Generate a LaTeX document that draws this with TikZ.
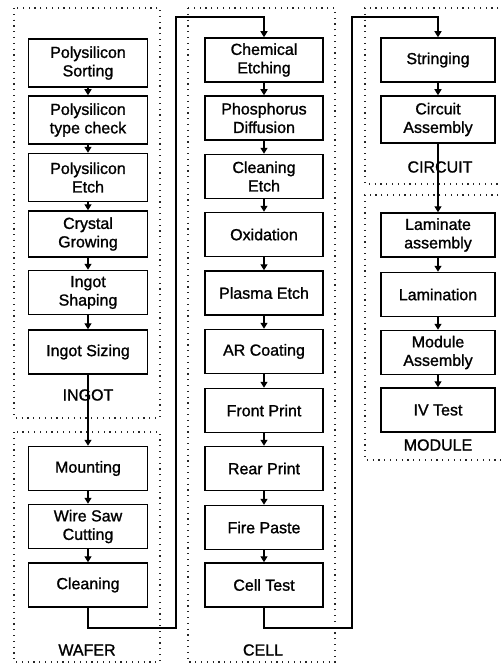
\documentclass[tikz,border=0pt]{standalone}
\usepackage{fontspec}
\setmainfont[FakeBold=1.2,AutoFakeBold=1.2]{Liberation Sans}
\usetikzlibrary{arrows.meta}
\tikzset{
  stepbox/.style={draw=black, line width=1.5pt, rectangle, align=center, inner sep=1pt,
    font=\fontsize{16pt}{18.5pt}\selectfont\bfseries, minimum height=44pt},
  c1/.style={stepbox, minimum width=119pt},
  c2/.style={stepbox, minimum width=118pt},
  c3/.style={stepbox, minimum width=114pt},
  arr/.style={draw=black, line width=1.3pt, -{Triangle[length=6pt,width=7pt]}},
  dotbox/.style={draw=black!85, line width=1.3pt, dash pattern=on 1.2pt off 4.6pt},
  grp/.style={font=\fontsize{16pt}{18.5pt}\selectfont\bfseries, inner sep=0pt}
}
\begin{document}
\begin{tikzpicture}[x=1pt,y={(0pt,-1pt)}]
\useasboundingbox (0,0) rectangle (502,666);
% group frames
\draw[dotbox] (14,8) rectangle (160,418);
\draw[dotbox] (14,432) rectangle (160,662);
\draw[dotbox] (188,8) rectangle (335,662);
\draw[dotbox] (510,8) -- (365,8) -- (365,184) -- (510,184);
\draw[dotbox] (510,195) -- (365,195) -- (365,460) -- (510,460);
% column 1
\node[c1, minimum height=48pt] (ps) at (88,63) {Polysilicon\\Sorting};
\node[c1, minimum height=48pt] (pt) at (88,120) {Polysilicon\\type check};
\node[c1, minimum height=48pt] (pe) at (88,177.5) {Polysilicon\\Etch};
\node[c1, minimum height=46pt] (cg) at (88,234) {Crystal\\Growing};
\node[c1] (is) at (88,292.5) {Ingot\\Shaping};
\node[c1] (iz) at (88,352) {Ingot Sizing};
\node[c1] (mo) at (88,468.5) {Mounting};
\node[c1] (ws) at (88,526.5) {Wire Saw\\Cutting};
\node[c1] (cl) at (88,585) {Cleaning};
% column 2
\node[c2] (ce) at (264,60) {Chemical\\Etching};
\node[c2] (pd) at (264,118) {Phosphorus\\Diffusion};
\node[c2] (cle) at (264,176.5) {Cleaning\\Etch};
\node[c2] (ox) at (264,234.5) {Oxidation};
\node[c2] (pl) at (264,293) {Plasma Etch};
\node[c2] (ar) at (264,351.5) {AR Coating};
\node[c2] (fp) at (264,410.5) {Front Print};
\node[c2] (rp) at (264,468.5) {Rear Print};
\node[c2] (fi) at (264,527.5) {Fire Paste};
\node[c2] (ct) at (264,585) {Cell Test};
% column 3
\node[c3] (st) at (438,60) {Stringing};
\node[c3, minimum height=47pt] (ca) at (438,119.5) {Circuit\\Assembly};
\node[c3] (la) at (438,235) {Laminate\\assembly};
\node[c3] (lm) at (438,294.5) {Lamination};
\node[c3] (ma) at (438,352.5) {Module\\Assembly};
\node[c3] (iv) at (438,410) {IV Test};
% connectors
\draw[arr] (ps) -- (pt);
\draw[arr] (pt) -- (pe);
\draw[arr] (pe) -- (cg);
\draw[arr] (cg) -- (is);
\draw[arr] (is) -- (iz);
\draw[arr] (iz) -- (mo);
\draw[arr] (mo) -- (ws);
\draw[arr] (ws) -- (cl);
\draw[arr] (ce) -- (pd);
\draw[arr] (pd) -- (cle);
\draw[arr] (cle) -- (ox);
\draw[arr] (ox) -- (pl);
\draw[arr] (pl) -- (ar);
\draw[arr] (ar) -- (fp);
\draw[arr] (fp) -- (rp);
\draw[arr] (rp) -- (fi);
\draw[arr] (fi) -- (ct);
\draw[arr] (st) -- (ca);
\draw[arr] (ca) -- (la);
\draw[arr] (la) -- (lm);
\draw[arr] (lm) -- (ma);
\draw[arr] (ma) -- (iv);
\coordinate (k1a) at (176,628);
\coordinate (k1b) at (176,17);
\coordinate (k2a) at (352,628);
\coordinate (k2b) at (352,17);
\draw[arr] (cl.south) |- (k1a) -- (k1b) -| (ce.north);
\draw[arr] (ct.south) |- (k2a) -- (k2b) -| (st.north);
% group labels
\node[grp] (lingot) at (88,395) {INGOT};
\node[grp] (lwafer) at (87,650) {WAFER};
\node[grp] (lcell) at (263,650) {CELL};
\node[grp] (lcirc) at (440,167) {CIRCUIT};
\node[grp] (lmod) at (438,445) {MODULE};
\end{tikzpicture}
\end{document}
